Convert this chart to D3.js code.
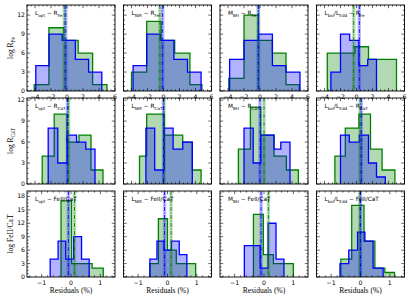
<!DOCTYPE html>
<html>
<head>
<meta charset="utf-8">
<script src="https://cdn.jsdelivr.net/npm/d3@7"></script>
<style>
  body { margin: 0; background: #fff; }
  svg { display: block; }
</style>
</head>
<body>
<div id="chart"></div>
<script>
// layout of the 3x4 grid
const W = 415, H = 297
const COL_X = [27, 123.5, 220, 316.5]
const ROW_Y = [5, 98, 191]
const PW = 88, PH = 86

// panel titles and axis labels
const predictors = ["L_{opt}", "L_{NIR}", "M_{BH}", "L_{bol}/L_{Edd}"]
const targets = ["R_{Fe}", "R_{CaT}", "FeII/CaT"]
const yLabels = ["log R_{Fe}", "log R_{CaT}", "log FeII/CaT"]

// ticks
const xTicksWide = [-4, -2, 0, 2, 4, 6]
const xTicksNarrow = [-1, 0, 1]
const yTicksSmall = [0, 3, 6, 9, 12]
const yTicksBig = [0, 3, 6, 9, 12, 15, 18]

// row 1: R_Fe residuals
const feBlueEdges = [[-3.9, -2.25, -0.6, 1.05, 2.7, 4.35], [-3.8, -2.1, -0.4, 1.3, 3.0, 4.7], [-3.8, -2.0, -0.2, 1.55, 3.25, 5.0], [-3.2, -2.0, -0.85, 0.3, 1.4, 2.5]]
const feBlueCounts = [[4, 9, 8, 5, 3], [4, 9, 8, 5, 3], [5, 8, 9, 4, 3], [3, 9, 8, 4, 5]]
const feGreenEdges = [[-4.1, -2.26, -0.4, 1.4, 3.2, 5.0], [-4.0, -2.1, -0.3, 1.4, 3.3, 4.8], [-3.9, -2.0, -0.2, 1.55, 3.25, 4.9], [-3.65, -0.2, 1.5, 5.0]]
const feGreenCounts = [[1, 10, 8, 6, 1], [3, 11, 8, 6, 1], [2, 12, 8, 6, 1], [6, 7, 5]]
const feBlueMean = [-0.15, -0.1, -0.2, 0.35]
const feGreenMean = [-0.35, -0.45, -0.2, -0.35]

// row 2: R_CaT residuals
const catBlueEdges = [[-2.35, -1.15, 0, 1.2, 2.35, 3.5], [-2.2, -1.1, 0.1, 1.2, 2.4, 3.6], [-2.0, -0.85, 0.1, 1.75, 2.6, 3.75], [-2.0, -0.9, 0.35, 1.5, 2.5, 3.6]]
const catBlueCounts = [[8, 3, 7, 6, 5], [8, 2, 8, 5, 6], [8, 3, 7, 5, 6], [7, 6, 7, 3, 1]]
const catGreenEdges = [[-3.1, -1.6, 0, 1.5, 3.0, 4.5], [-3.0, -2.1, 0.1, 2.4, 3.6, 4.7], [-2.7, -1.2, 0.1, 1.75, 3.3, 4.8], [-2.7, -1.4, 0.3, 1.75, 3.2, 4.8]]
const catGreenCounts = [[4, 10, 6, 7, 2], [4, 10, 7, 6, 2], [5, 11, 7, 4, 2], [4, 8, 10, 5, 2]]
const catBlueMean = [0.05, 0.0, 0.0, 0.6]
const catGreenMean = [0.2, 0.05, 0.5, 0.45]

// row 3: FeII/CaT residuals
const ratioBlueEdges = [[-0.71, -0.44, -0.18, 0.09, 0.36, 0.62], [-0.6, -0.36, -0.12, 0.13, 0.4, 0.66], [-0.67, -0.4, -0.13, 0.14, 0.41, 0.68], [-0.7, -0.4, -0.1, 0.15, 0.43, 0.77]]
const ratioBlueCounts = [[4, 8, 4, 9, 4], [4, 8, 6, 8, 5], [7, 7, 2, 12, 4], [3, 6, 10, 8, 2]]
const ratioGreenEdges = [[-0.34, 0.02, 0.38, 0.72, 1.1], [-0.6, -0.31, 0, 0.3, 0.63, 0.96], [-0.36, -0.02, 0.32, 0.66, 1.0], [-0.67, -0.3, 0.12, 0.49, 0.83, 1.16]]
const ratioGreenCounts = [[17, 3, 3, 2], [3, 13, 6, 3, 3], [14, 5, 3, 3], [4, 16, 8, 2, 1]]
const ratioBlueMean = [-0.09, -0.1, -0.1, 0.0]
const ratioGreenMean = [0.12, 0.12, 0.15, -0.02]

const rows = [
  { xdom: [-5, 6], xticks: xTicksWide, xminor: 0.5, ydom: [0, 13.6], yticks: yTicksSmall, showX: true,
    be: feBlueEdges, bc: feBlueCounts, ge: feGreenEdges, gc: feGreenCounts, bm: feBlueMean, gm: feGreenMean },
  { xdom: [-5, 6], xticks: xTicksWide, xminor: 0.5, ydom: [0, 12.3], yticks: yTicksSmall, showX: false,
    be: catBlueEdges, bc: catBlueCounts, ge: catGreenEdges, gc: catGreenCounts, bm: catBlueMean, gm: catGreenMean },
  { xdom: [-1.5, 1.5], xticks: xTicksNarrow, xminor: 0.2, ydom: [0, 19.2], yticks: yTicksBig, showX: true,
    be: ratioBlueEdges, bc: ratioBlueCounts, ge: ratioGreenEdges, gc: ratioGreenCounts, bm: ratioBlueMean, gm: ratioGreenMean }
]

const BLUE = "#0000ff", GREEN = "#008000"
const FONT = "DejaVu Sans, sans-serif"
const SERIF = "Liberation Serif, DejaVu Serif, serif"

const svg = d3.select("#chart").append("svg")
  .attr("width", W)
  .attr("height", H)

svg.append("defs").append("clipPath")
  .attr("id", "panel-clip")
  .append("rect")
  .attr("width", PW)
  .attr("height", PH)

// writes "a_{b}" style strings as tspans with subscripts
function subText(sel, str, size) {
  const parts = str.split(/(_\{[^}]*\})/).filter(s => s.length)
  let down = false
  parts.forEach(p => {
    if (p.startsWith("_{")) {
      sel.append("tspan").attr("font-size", size * 0.72).attr("dy", size * 0.28).text(p.slice(2, -1))
      down = true
    } else {
      sel.append("tspan").attr("font-size", size).attr("dy", down ? -size * 0.28 : 0).text(p)
      down = false
    }
  })
}

function stepPoints(edges, counts) {
  const pts = [[edges[0], 0]]
  counts.forEach((c, i) => {
    pts.push([edges[i], c])
    pts.push([edges[i + 1], c])
  })
  pts.push([edges[edges.length - 1], 0])
  return pts
}

rows.forEach((row, r) => {
  const x = d3.scaleLinear().domain(row.xdom).range([0, PW])
  const y = d3.scaleLinear().domain(row.ydom).range([PH, 0])
  const line = d3.line().x(d => x(d[0])).y(d => y(d[1]))

  const xMinor = d3.range(Math.ceil(row.xdom[0] / row.xminor) * row.xminor, row.xdom[1] + 1e-9, row.xminor)
  const yStep = row.yticks[1] - row.yticks[0]
  const yMinor = d3.range(0, row.ydom[1], yStep / 4)

  for (let c = 0; c < 4; c++) {
    const g = svg.append("g").attr("transform", `translate(${COL_X[c]}, ${ROW_Y[r]})`)
    const plot = g.append("g").attr("clip-path", "url(#panel-clip)")

    // green first, blue over it
    plot.append("path")
      .attr("d", line(stepPoints(row.ge[c], row.gc[c])))
      .attr("fill", GREEN).attr("fill-opacity", 0.3)
      .attr("stroke", GREEN).attr("stroke-width", 1.3)
    plot.append("path")
      .attr("d", line(stepPoints(row.be[c], row.bc[c])))
      .attr("fill", BLUE).attr("fill-opacity", 0.3)
      .attr("stroke", BLUE).attr("stroke-width", 1.3)

    // mean lines: a faint wide band plus a dash-dot line
    const means = [[row.gm[c], GREEN], [row.bm[c], BLUE]]
    means.forEach(([m, col]) => {
      plot.append("line")
        .attr("x1", x(m)).attr("x2", x(m)).attr("y1", 0).attr("y2", PH)
        .attr("stroke", col).attr("stroke-opacity", 0.25).attr("stroke-width", 3.5)
    })
    means.forEach(([m, col]) => {
      plot.append("line")
        .attr("x1", x(m)).attr("x2", x(m)).attr("y1", 0).attr("y2", PH)
        .attr("stroke", col).attr("stroke-width", 0.9)
        .attr("stroke-dasharray", "4,1.5,1,1.5")
    })

    // frame
    g.append("rect")
      .attr("width", PW).attr("height", PH)
      .attr("fill", "none").attr("stroke", "#000").attr("stroke-width", 0.9)

    // ticks on all four sides, pointing inward
    const tk = g.append("g").attr("stroke", "#000").attr("stroke-width", 0.6)
    xMinor.forEach(v => {
      const major = row.xticks.some(t => Math.abs(t - v) < 1e-6)
      const len = major ? 3.2 : 1.6
      tk.append("line").attr("x1", x(v)).attr("x2", x(v)).attr("y1", PH).attr("y2", PH - len)
      tk.append("line").attr("x1", x(v)).attr("x2", x(v)).attr("y1", 0).attr("y2", len)
    })
    yMinor.forEach(v => {
      const major = row.yticks.includes(v)
      const len = major ? 3.2 : 1.6
      tk.append("line").attr("x1", 0).attr("x2", len).attr("y1", y(v)).attr("y2", y(v))
      tk.append("line").attr("x1", PW).attr("x2", PW - len).attr("y1", y(v)).attr("y2", y(v))
    })

    if (row.showX) {
      row.xticks.forEach(v => {
        g.append("text")
          .attr("x", x(v)).attr("y", PH + 7.5)
          .attr("text-anchor", "middle")
          .attr("font-family", FONT).attr("font-size", 6.2)
          .text(v < 0 ? "\u2212" + Math.abs(v) : v)
      })
    }
    if (c === 0) {
      row.yticks.forEach(v => {
        g.append("text")
          .attr("x", -2).attr("y", y(v) + 2)
          .attr("text-anchor", "end")
          .attr("font-family", FONT).attr("font-size", 6.2)
          .text(v)
      })
    }

    // panel title
    const t = g.append("text")
      .attr("x", 8).attr("y", 10)
      .attr("font-family", FONT)
    subText(t, predictors[c] + " \u2212 " + targets[r], 5.8)

    if (r === 2) {
      g.append("text")
        .attr("x", PW / 2).attr("y", PH + 16)
        .attr("text-anchor", "middle")
        .attr("font-family", SERIF).attr("font-size", 7.5)
        .text("Residuals (%)")
    }
  }

  // row label
  const yl = svg.append("text")
    .attr("transform", `translate(13, ${ROW_Y[r] + PH / 2}) rotate(-90)`)
    .attr("text-anchor", "middle")
    .attr("font-family", SERIF)
  subText(yl, yLabels[r], 7.5)
})
</script>
</body>
</html>
